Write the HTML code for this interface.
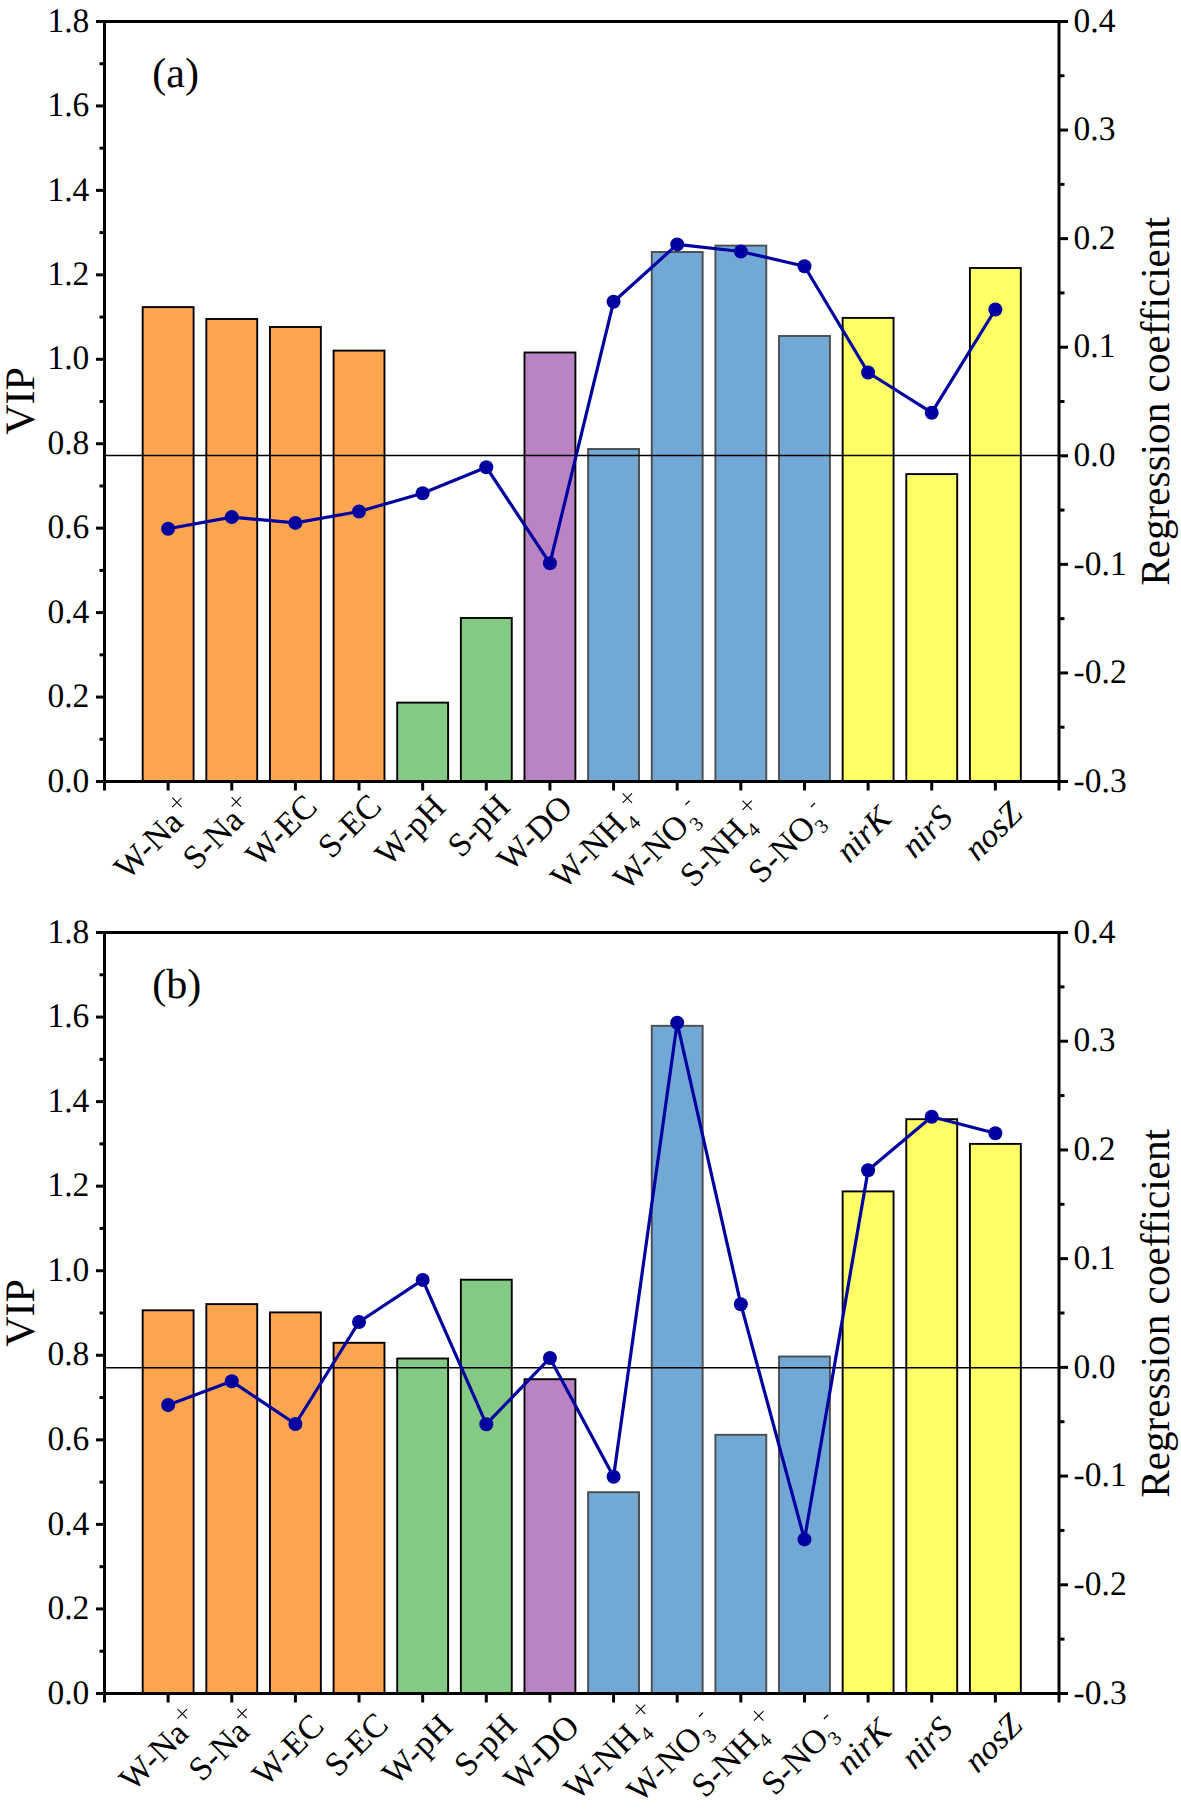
<!DOCTYPE html><html><head><meta charset="utf-8"><style>html,body{margin:0;padding:0;background:#fff;}svg{display:block;}text{font-family:"Liberation Serif",serif;fill:#000;text-rendering:geometricPrecision;}</style></head><body>
<svg width="1181" height="1812" viewBox="0 0 1181 1812">
<rect x="0" y="0" width="1181" height="1812" fill="#fff"/>
<rect x="142.68" y="307.1" width="50.91" height="474.4" fill="#FFA54F" stroke="#000" stroke-width="1.9"/>
<rect x="206.31" y="319" width="50.91" height="462.5" fill="#FFA54F" stroke="#000" stroke-width="1.9"/>
<rect x="269.95" y="327" width="50.91" height="454.5" fill="#FFA54F" stroke="#000" stroke-width="1.9"/>
<rect x="333.58" y="350.6" width="50.91" height="430.9" fill="#FFA54F" stroke="#000" stroke-width="1.9"/>
<rect x="397.21" y="702.6" width="50.91" height="78.9" fill="#84C984" stroke="#000" stroke-width="1.9"/>
<rect x="460.85" y="618" width="50.91" height="163.5" fill="#84C984" stroke="#000" stroke-width="1.9"/>
<rect x="524.48" y="352.5" width="50.91" height="429" fill="#BA83C4" stroke="#000" stroke-width="1.9"/>
<rect x="588.11" y="449" width="50.91" height="332.5" fill="#72A8D6" stroke="#4d4d4d" stroke-width="1.9"/>
<rect x="651.75" y="252" width="50.91" height="529.5" fill="#72A8D6" stroke="#4d4d4d" stroke-width="1.9"/>
<rect x="715.38" y="245.6" width="50.91" height="535.9" fill="#72A8D6" stroke="#4d4d4d" stroke-width="1.9"/>
<rect x="779.01" y="336" width="50.91" height="445.5" fill="#72A8D6" stroke="#4d4d4d" stroke-width="1.9"/>
<rect x="842.65" y="317.9" width="50.91" height="463.6" fill="#FFFF66" stroke="#000" stroke-width="1.9"/>
<rect x="906.28" y="474.1" width="50.91" height="307.4" fill="#FFFF66" stroke="#000" stroke-width="1.9"/>
<rect x="969.91" y="268" width="50.91" height="513.5" fill="#FFFF66" stroke="#000" stroke-width="1.9"/>
<line x1="104.5" y1="455.6" x2="1059" y2="455.6" stroke="#000" stroke-width="1.5"/>
<polyline points="168.13,528.7 231.77,517.1 295.4,522.9 359.03,511.5 422.67,493.3 486.3,467.2 549.93,563.3 613.57,301.8 677.2,244.4 740.83,251.5 804.47,266.2 868.1,372.5 931.73,412.7 995.37,309.5" fill="none" stroke="#0000A0" stroke-width="3.2" stroke-linejoin="round"/>
<circle cx="168.13" cy="528.7" r="7" fill="#0000A0"/>
<circle cx="231.77" cy="517.1" r="7" fill="#0000A0"/>
<circle cx="295.4" cy="522.9" r="7" fill="#0000A0"/>
<circle cx="359.03" cy="511.5" r="7" fill="#0000A0"/>
<circle cx="422.67" cy="493.3" r="7" fill="#0000A0"/>
<circle cx="486.3" cy="467.2" r="7" fill="#0000A0"/>
<circle cx="549.93" cy="563.3" r="7" fill="#0000A0"/>
<circle cx="613.57" cy="301.8" r="7" fill="#0000A0"/>
<circle cx="677.2" cy="244.4" r="7" fill="#0000A0"/>
<circle cx="740.83" cy="251.5" r="7" fill="#0000A0"/>
<circle cx="804.47" cy="266.2" r="7" fill="#0000A0"/>
<circle cx="868.1" cy="372.5" r="7" fill="#0000A0"/>
<circle cx="931.73" cy="412.7" r="7" fill="#0000A0"/>
<circle cx="995.37" cy="309.5" r="7" fill="#0000A0"/>
<g stroke="#000" stroke-width="3" fill="none" stroke-linecap="square">
<line x1="104.5" y1="21.5" x2="1059" y2="21.5"/>
<line x1="104.5" y1="781.5" x2="1059" y2="781.5"/>
<line x1="104.5" y1="21.5" x2="104.5" y2="781.5"/>
<line x1="1059" y1="21.5" x2="1059" y2="781.5"/>
</g>
<g stroke="#000" stroke-width="3" fill="none">
<line x1="96" y1="781.5" x2="104.5" y2="781.5"/>
<line x1="99.5" y1="739.28" x2="104.5" y2="739.28"/>
<line x1="96" y1="697.06" x2="104.5" y2="697.06"/>
<line x1="99.5" y1="654.83" x2="104.5" y2="654.83"/>
<line x1="96" y1="612.61" x2="104.5" y2="612.61"/>
<line x1="99.5" y1="570.39" x2="104.5" y2="570.39"/>
<line x1="96" y1="528.17" x2="104.5" y2="528.17"/>
<line x1="99.5" y1="485.94" x2="104.5" y2="485.94"/>
<line x1="96" y1="443.72" x2="104.5" y2="443.72"/>
<line x1="99.5" y1="401.5" x2="104.5" y2="401.5"/>
<line x1="96" y1="359.28" x2="104.5" y2="359.28"/>
<line x1="99.5" y1="317.06" x2="104.5" y2="317.06"/>
<line x1="96" y1="274.83" x2="104.5" y2="274.83"/>
<line x1="99.5" y1="232.61" x2="104.5" y2="232.61"/>
<line x1="96" y1="190.39" x2="104.5" y2="190.39"/>
<line x1="99.5" y1="148.17" x2="104.5" y2="148.17"/>
<line x1="96" y1="105.94" x2="104.5" y2="105.94"/>
<line x1="99.5" y1="63.72" x2="104.5" y2="63.72"/>
<line x1="96" y1="21.5" x2="104.5" y2="21.5"/>
<line x1="1059" y1="781.5" x2="1068" y2="781.5"/>
<line x1="1059" y1="727.21" x2="1064.5" y2="727.21"/>
<line x1="1059" y1="672.93" x2="1068" y2="672.93"/>
<line x1="1059" y1="618.64" x2="1064.5" y2="618.64"/>
<line x1="1059" y1="564.36" x2="1068" y2="564.36"/>
<line x1="1059" y1="510.07" x2="1064.5" y2="510.07"/>
<line x1="1059" y1="455.79" x2="1068" y2="455.79"/>
<line x1="1059" y1="401.5" x2="1064.5" y2="401.5"/>
<line x1="1059" y1="347.21" x2="1068" y2="347.21"/>
<line x1="1059" y1="292.93" x2="1064.5" y2="292.93"/>
<line x1="1059" y1="238.64" x2="1068" y2="238.64"/>
<line x1="1059" y1="184.36" x2="1064.5" y2="184.36"/>
<line x1="1059" y1="130.07" x2="1068" y2="130.07"/>
<line x1="1059" y1="75.79" x2="1064.5" y2="75.79"/>
<line x1="1059" y1="21.5" x2="1068" y2="21.5"/>
<line x1="104.5" y1="781.5" x2="104.5" y2="790.5"/>
<line x1="168.13" y1="781.5" x2="168.13" y2="790.5"/>
<line x1="231.77" y1="781.5" x2="231.77" y2="790.5"/>
<line x1="295.4" y1="781.5" x2="295.4" y2="790.5"/>
<line x1="359.03" y1="781.5" x2="359.03" y2="790.5"/>
<line x1="422.67" y1="781.5" x2="422.67" y2="790.5"/>
<line x1="486.3" y1="781.5" x2="486.3" y2="790.5"/>
<line x1="549.93" y1="781.5" x2="549.93" y2="790.5"/>
<line x1="613.57" y1="781.5" x2="613.57" y2="790.5"/>
<line x1="677.2" y1="781.5" x2="677.2" y2="790.5"/>
<line x1="740.83" y1="781.5" x2="740.83" y2="790.5"/>
<line x1="804.47" y1="781.5" x2="804.47" y2="790.5"/>
<line x1="868.1" y1="781.5" x2="868.1" y2="790.5"/>
<line x1="931.73" y1="781.5" x2="931.73" y2="790.5"/>
<line x1="995.37" y1="781.5" x2="995.37" y2="790.5"/>
<line x1="1059" y1="781.5" x2="1059" y2="790.5"/>
</g>
<text transform="translate(89.3,791.7) scale(1,1.025)" font-size="33.5" text-anchor="end">0.0</text>
<text transform="translate(89.3,707.26) scale(1,1.025)" font-size="33.5" text-anchor="end">0.2</text>
<text transform="translate(89.3,622.81) scale(1,1.025)" font-size="33.5" text-anchor="end">0.4</text>
<text transform="translate(89.3,538.37) scale(1,1.025)" font-size="33.5" text-anchor="end">0.6</text>
<text transform="translate(89.3,453.92) scale(1,1.025)" font-size="33.5" text-anchor="end">0.8</text>
<text transform="translate(89.3,369.48) scale(1,1.025)" font-size="33.5" text-anchor="end">1.0</text>
<text transform="translate(89.3,285.03) scale(1,1.025)" font-size="33.5" text-anchor="end">1.2</text>
<text transform="translate(89.3,200.59) scale(1,1.025)" font-size="33.5" text-anchor="end">1.4</text>
<text transform="translate(89.3,116.14) scale(1,1.025)" font-size="33.5" text-anchor="end">1.6</text>
<text transform="translate(89.3,31.7) scale(1,1.025)" font-size="33.5" text-anchor="end">1.8</text>
<text transform="translate(1073.6,791.7) scale(1,1.025)" font-size="33.5">-0.3</text>
<text transform="translate(1073.6,683.13) scale(1,1.025)" font-size="33.5">-0.2</text>
<text transform="translate(1073.6,574.56) scale(1,1.025)" font-size="33.5">-0.1</text>
<text transform="translate(1073.6,465.99) scale(1,1.025)" font-size="33.5">0.0</text>
<text transform="translate(1073.6,357.41) scale(1,1.025)" font-size="33.5">0.1</text>
<text transform="translate(1073.6,248.84) scale(1,1.025)" font-size="33.5">0.2</text>
<text transform="translate(1073.6,140.27) scale(1,1.025)" font-size="33.5">0.3</text>
<text transform="translate(1073.6,31.7) scale(1,1.025)" font-size="33.5">0.4</text>
<text transform="translate(33.9,401) rotate(-90)" font-size="42" text-anchor="middle">VIP</text>
<text transform="translate(1168.8,401.4) rotate(-90)" font-size="41.2" text-anchor="middle">Regression coefficient</text>
<text x="152.3" y="86.9" font-size="42">(a)</text>
<g transform="translate(127.63,881.1) rotate(-45)"><text x="0" y="0" font-size="33.8">W-Na</text><path d="M83.88,-20.8H97.08M90.48,-27.4V-14.2" stroke="#000" stroke-width="1.05" fill="none"/></g>
<g transform="translate(196.26,871.32) rotate(-45)"><text x="0" y="0" font-size="33.8">S-Na</text><path d="M70.77,-20.8H83.97M77.37,-27.4V-14.2" stroke="#000" stroke-width="1.05" fill="none"/></g>
<g transform="translate(259.33,868.29) rotate(-45)"><text x="0" y="0" font-size="33.8">W-EC</text></g>
<g transform="translate(331.51,859.76) rotate(-45)"><text x="0" y="0" font-size="33.8">S-EC</text></g>
<g transform="translate(388.75,867.39) rotate(-45)"><text x="0" y="0" font-size="33.8">W-pH</text></g>
<g transform="translate(461.28,858.86) rotate(-45)"><text x="0" y="0" font-size="33.8">S-pH</text></g>
<g transform="translate(510.67,872.61) rotate(-45)"><text x="0" y="0" font-size="33.8">W-DO</text></g>
<g transform="translate(564.35,890.56) rotate(-45)"><text x="0" y="0" font-size="33.8">W-NH</text><text x="91.98" y="7.5" font-size="20">4</text><path d="M103.29,-20.8H116.49M109.89,-27.4V-14.2" stroke="#000" stroke-width="1.05" fill="none"/></g>
<g transform="translate(627.04,891.79) rotate(-45)"><text x="0" y="0" font-size="33.8">W-NO</text><text x="91.98" y="7.5" font-size="20">3</text><path d="M102.75,-20.18H108.55" stroke="#000" stroke-width="1.3" fill="none"/></g>
<g transform="translate(693.42,888.38) rotate(-45)"><text x="0" y="0" font-size="33.8">S-NH</text><text x="78.87" y="7.5" font-size="20">4</text><path d="M90.18,-20.8H103.38M96.78,-27.4V-14.2" stroke="#000" stroke-width="1.05" fill="none"/></g>
<g transform="translate(761.71,884.77) rotate(-45)"><text x="0" y="0" font-size="33.8">S-NO</text><text x="78.87" y="7.5" font-size="20">3</text><path d="M89.65,-20.18H95.45" stroke="#000" stroke-width="1.3" fill="none"/></g>
<g transform="translate(849.17,864.08) rotate(-45)"><text x="0" y="0" font-size="33.8" font-style="italic">nirK</text></g>
<g transform="translate(914.53,859.39) rotate(-45)"><text x="0" y="0" font-size="33.8" font-style="italic">nirS</text></g>
<g transform="translate(977.49,862.25) rotate(-45)"><text x="0" y="0" font-size="33.8" font-style="italic">nosZ</text></g>
<rect x="142.68" y="1310.3" width="50.91" height="383.2" fill="#FFA54F" stroke="#000" stroke-width="1.9"/>
<rect x="206.31" y="1304.1" width="50.91" height="389.4" fill="#FFA54F" stroke="#000" stroke-width="1.9"/>
<rect x="269.95" y="1312.4" width="50.91" height="381.1" fill="#FFA54F" stroke="#000" stroke-width="1.9"/>
<rect x="333.58" y="1342.8" width="50.91" height="350.7" fill="#FFA54F" stroke="#000" stroke-width="1.9"/>
<rect x="397.21" y="1358.5" width="50.91" height="335" fill="#84C984" stroke="#000" stroke-width="1.9"/>
<rect x="460.85" y="1279.7" width="50.91" height="413.8" fill="#84C984" stroke="#000" stroke-width="1.9"/>
<rect x="524.48" y="1379.2" width="50.91" height="314.3" fill="#BA83C4" stroke="#000" stroke-width="1.9"/>
<rect x="588.11" y="1492.2" width="50.91" height="201.3" fill="#72A8D6" stroke="#4d4d4d" stroke-width="1.9"/>
<rect x="651.75" y="1025.8" width="50.91" height="667.7" fill="#72A8D6" stroke="#4d4d4d" stroke-width="1.9"/>
<rect x="715.38" y="1434.8" width="50.91" height="258.7" fill="#72A8D6" stroke="#4d4d4d" stroke-width="1.9"/>
<rect x="779.01" y="1356.5" width="50.91" height="337" fill="#72A8D6" stroke="#4d4d4d" stroke-width="1.9"/>
<rect x="842.65" y="1191.4" width="50.91" height="502.1" fill="#FFFF66" stroke="#000" stroke-width="1.9"/>
<rect x="906.28" y="1119.2" width="50.91" height="574.3" fill="#FFFF66" stroke="#000" stroke-width="1.9"/>
<rect x="969.91" y="1143.9" width="50.91" height="549.6" fill="#FFFF66" stroke="#000" stroke-width="1.9"/>
<line x1="104.5" y1="1367.7" x2="1059" y2="1367.7" stroke="#000" stroke-width="1.5"/>
<polyline points="168.13,1405 231.77,1381.3 295.4,1424 359.03,1322 422.67,1279.9 486.3,1424.2 549.93,1358 613.57,1476.8 677.2,1022.8 740.83,1304.2 804.47,1539.4 868.1,1170.2 931.73,1116.7 995.37,1133.2" fill="none" stroke="#0000A0" stroke-width="3.2" stroke-linejoin="round"/>
<circle cx="168.13" cy="1405" r="7" fill="#0000A0"/>
<circle cx="231.77" cy="1381.3" r="7" fill="#0000A0"/>
<circle cx="295.4" cy="1424" r="7" fill="#0000A0"/>
<circle cx="359.03" cy="1322" r="7" fill="#0000A0"/>
<circle cx="422.67" cy="1279.9" r="7" fill="#0000A0"/>
<circle cx="486.3" cy="1424.2" r="7" fill="#0000A0"/>
<circle cx="549.93" cy="1358" r="7" fill="#0000A0"/>
<circle cx="613.57" cy="1476.8" r="7" fill="#0000A0"/>
<circle cx="677.2" cy="1022.8" r="7" fill="#0000A0"/>
<circle cx="740.83" cy="1304.2" r="7" fill="#0000A0"/>
<circle cx="804.47" cy="1539.4" r="7" fill="#0000A0"/>
<circle cx="868.1" cy="1170.2" r="7" fill="#0000A0"/>
<circle cx="931.73" cy="1116.7" r="7" fill="#0000A0"/>
<circle cx="995.37" cy="1133.2" r="7" fill="#0000A0"/>
<g stroke="#000" stroke-width="3" fill="none" stroke-linecap="square">
<line x1="104.5" y1="932.5" x2="1059" y2="932.5"/>
<line x1="104.5" y1="1693.5" x2="1059" y2="1693.5"/>
<line x1="104.5" y1="932.5" x2="104.5" y2="1693.5"/>
<line x1="1059" y1="932.5" x2="1059" y2="1693.5"/>
</g>
<g stroke="#000" stroke-width="3" fill="none">
<line x1="96" y1="1693.5" x2="104.5" y2="1693.5"/>
<line x1="99.5" y1="1651.22" x2="104.5" y2="1651.22"/>
<line x1="96" y1="1608.94" x2="104.5" y2="1608.94"/>
<line x1="99.5" y1="1566.67" x2="104.5" y2="1566.67"/>
<line x1="96" y1="1524.39" x2="104.5" y2="1524.39"/>
<line x1="99.5" y1="1482.11" x2="104.5" y2="1482.11"/>
<line x1="96" y1="1439.83" x2="104.5" y2="1439.83"/>
<line x1="99.5" y1="1397.56" x2="104.5" y2="1397.56"/>
<line x1="96" y1="1355.28" x2="104.5" y2="1355.28"/>
<line x1="99.5" y1="1313" x2="104.5" y2="1313"/>
<line x1="96" y1="1270.72" x2="104.5" y2="1270.72"/>
<line x1="99.5" y1="1228.44" x2="104.5" y2="1228.44"/>
<line x1="96" y1="1186.17" x2="104.5" y2="1186.17"/>
<line x1="99.5" y1="1143.89" x2="104.5" y2="1143.89"/>
<line x1="96" y1="1101.61" x2="104.5" y2="1101.61"/>
<line x1="99.5" y1="1059.33" x2="104.5" y2="1059.33"/>
<line x1="96" y1="1017.06" x2="104.5" y2="1017.06"/>
<line x1="99.5" y1="974.78" x2="104.5" y2="974.78"/>
<line x1="96" y1="932.5" x2="104.5" y2="932.5"/>
<line x1="1059" y1="1693.5" x2="1068" y2="1693.5"/>
<line x1="1059" y1="1639.14" x2="1064.5" y2="1639.14"/>
<line x1="1059" y1="1584.79" x2="1068" y2="1584.79"/>
<line x1="1059" y1="1530.43" x2="1064.5" y2="1530.43"/>
<line x1="1059" y1="1476.07" x2="1068" y2="1476.07"/>
<line x1="1059" y1="1421.71" x2="1064.5" y2="1421.71"/>
<line x1="1059" y1="1367.36" x2="1068" y2="1367.36"/>
<line x1="1059" y1="1313" x2="1064.5" y2="1313"/>
<line x1="1059" y1="1258.64" x2="1068" y2="1258.64"/>
<line x1="1059" y1="1204.29" x2="1064.5" y2="1204.29"/>
<line x1="1059" y1="1149.93" x2="1068" y2="1149.93"/>
<line x1="1059" y1="1095.57" x2="1064.5" y2="1095.57"/>
<line x1="1059" y1="1041.21" x2="1068" y2="1041.21"/>
<line x1="1059" y1="986.86" x2="1064.5" y2="986.86"/>
<line x1="1059" y1="932.5" x2="1068" y2="932.5"/>
<line x1="104.5" y1="1693.5" x2="104.5" y2="1702.5"/>
<line x1="168.13" y1="1693.5" x2="168.13" y2="1702.5"/>
<line x1="231.77" y1="1693.5" x2="231.77" y2="1702.5"/>
<line x1="295.4" y1="1693.5" x2="295.4" y2="1702.5"/>
<line x1="359.03" y1="1693.5" x2="359.03" y2="1702.5"/>
<line x1="422.67" y1="1693.5" x2="422.67" y2="1702.5"/>
<line x1="486.3" y1="1693.5" x2="486.3" y2="1702.5"/>
<line x1="549.93" y1="1693.5" x2="549.93" y2="1702.5"/>
<line x1="613.57" y1="1693.5" x2="613.57" y2="1702.5"/>
<line x1="677.2" y1="1693.5" x2="677.2" y2="1702.5"/>
<line x1="740.83" y1="1693.5" x2="740.83" y2="1702.5"/>
<line x1="804.47" y1="1693.5" x2="804.47" y2="1702.5"/>
<line x1="868.1" y1="1693.5" x2="868.1" y2="1702.5"/>
<line x1="931.73" y1="1693.5" x2="931.73" y2="1702.5"/>
<line x1="995.37" y1="1693.5" x2="995.37" y2="1702.5"/>
<line x1="1059" y1="1693.5" x2="1059" y2="1702.5"/>
</g>
<text transform="translate(89.3,1703.7) scale(1,1.025)" font-size="33.5" text-anchor="end">0.0</text>
<text transform="translate(89.3,1619.14) scale(1,1.025)" font-size="33.5" text-anchor="end">0.2</text>
<text transform="translate(89.3,1534.59) scale(1,1.025)" font-size="33.5" text-anchor="end">0.4</text>
<text transform="translate(89.3,1450.03) scale(1,1.025)" font-size="33.5" text-anchor="end">0.6</text>
<text transform="translate(89.3,1365.48) scale(1,1.025)" font-size="33.5" text-anchor="end">0.8</text>
<text transform="translate(89.3,1280.92) scale(1,1.025)" font-size="33.5" text-anchor="end">1.0</text>
<text transform="translate(89.3,1196.37) scale(1,1.025)" font-size="33.5" text-anchor="end">1.2</text>
<text transform="translate(89.3,1111.81) scale(1,1.025)" font-size="33.5" text-anchor="end">1.4</text>
<text transform="translate(89.3,1027.26) scale(1,1.025)" font-size="33.5" text-anchor="end">1.6</text>
<text transform="translate(89.3,942.7) scale(1,1.025)" font-size="33.5" text-anchor="end">1.8</text>
<text transform="translate(1073.6,1703.7) scale(1,1.025)" font-size="33.5">-0.3</text>
<text transform="translate(1073.6,1594.99) scale(1,1.025)" font-size="33.5">-0.2</text>
<text transform="translate(1073.6,1486.27) scale(1,1.025)" font-size="33.5">-0.1</text>
<text transform="translate(1073.6,1377.56) scale(1,1.025)" font-size="33.5">0.0</text>
<text transform="translate(1073.6,1268.84) scale(1,1.025)" font-size="33.5">0.1</text>
<text transform="translate(1073.6,1160.13) scale(1,1.025)" font-size="33.5">0.2</text>
<text transform="translate(1073.6,1051.41) scale(1,1.025)" font-size="33.5">0.3</text>
<text transform="translate(1073.6,942.7) scale(1,1.025)" font-size="33.5">0.4</text>
<text transform="translate(33.9,1313) rotate(-90)" font-size="42" text-anchor="middle">VIP</text>
<text transform="translate(1168.8,1313.4) rotate(-90)" font-size="41.2" text-anchor="middle">Regression coefficient</text>
<text x="152.3" y="997.9" font-size="42">(b)</text>
<g transform="translate(132.98,1792.4) rotate(-45)"><text x="0" y="0" font-size="33.8">W-Na</text><path d="M83.88,-20.8H97.08M90.48,-27.4V-14.2" stroke="#000" stroke-width="1.05" fill="none"/></g>
<g transform="translate(202.06,1782.87) rotate(-45)"><text x="0" y="0" font-size="33.8">S-Na</text><path d="M70.77,-20.8H83.97M77.37,-27.4V-14.2" stroke="#000" stroke-width="1.05" fill="none"/></g>
<g transform="translate(265.98,1787.64) rotate(-45)"><text x="0" y="0" font-size="33.8">W-EC</text></g>
<g transform="translate(338.11,1778.36) rotate(-45)"><text x="0" y="0" font-size="33.8">S-EC</text></g>
<g transform="translate(395.85,1786.69) rotate(-45)"><text x="0" y="0" font-size="33.8">W-pH</text></g>
<g transform="translate(467.73,1778.21) rotate(-45)"><text x="0" y="0" font-size="33.8">S-pH</text></g>
<g transform="translate(517.52,1792.31) rotate(-45)"><text x="0" y="0" font-size="33.8">W-DO</text></g>
<g transform="translate(577.55,1801.71) rotate(-45)"><text x="0" y="0" font-size="33.8">W-NH</text><text x="91.98" y="7.5" font-size="20">4</text><path d="M103.29,-20.8H116.49M109.89,-27.4V-14.2" stroke="#000" stroke-width="1.05" fill="none"/></g>
<g transform="translate(640.49,1803.64) rotate(-45)"><text x="0" y="0" font-size="33.8">W-NO</text><text x="91.98" y="7.5" font-size="20">3</text><path d="M102.75,-20.18H108.55" stroke="#000" stroke-width="1.3" fill="none"/></g>
<g transform="translate(705.02,1798.98) rotate(-45)"><text x="0" y="0" font-size="33.8">S-NH</text><text x="78.87" y="7.5" font-size="20">4</text><path d="M90.18,-20.8H103.38M96.78,-27.4V-14.2" stroke="#000" stroke-width="1.05" fill="none"/></g>
<g transform="translate(774.76,1796.72) rotate(-45)"><text x="0" y="0" font-size="33.8">S-NO</text><text x="78.87" y="7.5" font-size="20">3</text><path d="M89.65,-20.18H95.45" stroke="#000" stroke-width="1.3" fill="none"/></g>
<g transform="translate(849.17,1776.38) rotate(-45)"><text x="0" y="0" font-size="33.8" font-style="italic">nirK</text></g>
<g transform="translate(914.53,1770.59) rotate(-45)"><text x="0" y="0" font-size="33.8" font-style="italic">nirS</text></g>
<g transform="translate(977.49,1773.9) rotate(-45)"><text x="0" y="0" font-size="33.8" font-style="italic">nosZ</text></g>
</svg></body></html>
